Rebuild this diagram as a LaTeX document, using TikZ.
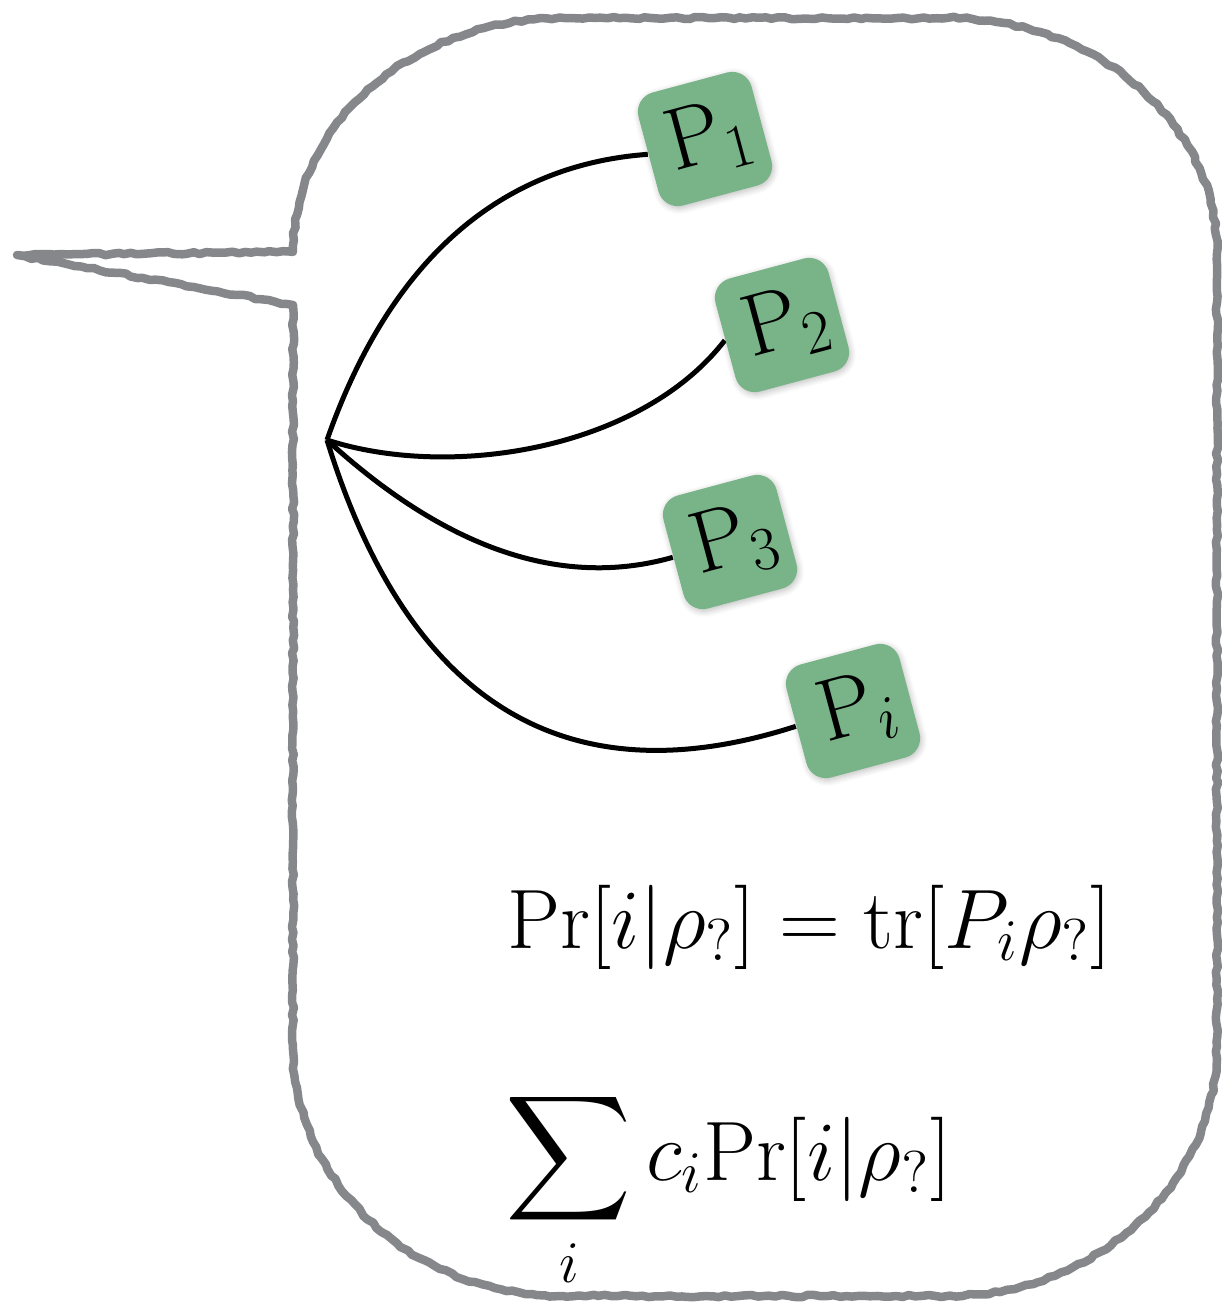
\documentclass[tikz,border=0pt]{standalone}
\usepackage{fix-cm}
\usepackage{amsmath}
\usetikzlibrary{decorations.pathmorphing,shadows.blur,backgrounds}
\definecolor{bubblegray}{RGB}{133,135,139}
\definecolor{boxgreen}{RGB}{121,180,137}
\tikzset{
  bubble/.style={draw=bubblegray, line width=0.085cm, line join=round,
    decorate, decoration={random steps, segment length=1.8pt, amplitude=0.35pt}},
  povm/.style={fill=boxgreen, rounded corners=0.2cm, minimum width=1.17cm,
    minimum height=1.17cm, inner sep=0pt, rotate=15,
    blur shadow={shadow blur steps=6, shadow xshift=0.4pt, shadow yshift=-0.6pt, shadow opacity=25},
    font=\fontsize{25}{29}\selectfont},
  wire/.style={draw=black, line width=0.05cm},
  formula/.style={inner sep=0pt, font=\fontsize{24}{28}\selectfont}
}
\begin{document}
\begin{tikzpicture}
\useasboundingbox (0,0) rectangle (12.22,-13.05);
% speech bubble
\path[bubble] (2.93,-2.52)
  arc[start angle=180, end angle=90, x radius=2.70cm, y radius=2.34cm]
  -- (9.47,-0.18)
  arc[start angle=90, end angle=0, x radius=2.70cm, y radius=2.34cm]
  -- (12.17,-10.46)
  arc[start angle=0, end angle=-90, x radius=2.70cm, y radius=2.50cm]
  -- (5.63,-12.96)
  arc[start angle=-90, end angle=-180, x radius=2.70cm, y radius=2.50cm]
  -- (2.93,-3.05) -- (0.17,-2.55) -- cycle;
% hub and boxes
\coordinate (hub) at (3.27,-4.40);
\node[povm] (p1) at (7.05,-1.39) {\hspace{0.1cm}$\mathrm{P}_1$};
\node[povm] (p2) at (7.82,-3.25) {\hspace{0.1cm}$\mathrm{P}_2$};
\node[povm] (p3) at (7.30,-5.42) {\hspace{0.1cm}$\mathrm{P}_3$};
\node[povm] (pi) at (8.53,-7.11) {\hspace{0.1cm}$\mathrm{P}_i$};
% wires, behind the boxes
\begin{scope}[on background layer]
\draw[wire] (hub) .. controls (3.90,-2.60) and (5.00,-1.65) .. (p1.west);
\draw[wire] (hub) .. controls (4.50,-4.80) and (6.40,-4.50) .. (p2.west);
\draw[wire] (hub) .. controls (4.20,-5.25) and (5.40,-5.95) .. (p3.west);
\draw[wire] (hub) .. controls (3.90,-6.45) and (5.20,-8.15) .. (pi.west);
\end{scope}
% formulas
\node[formula, anchor=base west] (f1) at (5.07,-9.48)
  {$\mathrm{Pr}[i|\rho_{?}] = \mathrm{tr}[P_i\rho_{?}]$};
\node[formula, anchor=base west] (f2) at (5.05,-11.80)
  {$\displaystyle\sum_i c_i \mathrm{Pr}[i|\rho_{?}]$};
\end{tikzpicture}
\end{document}
